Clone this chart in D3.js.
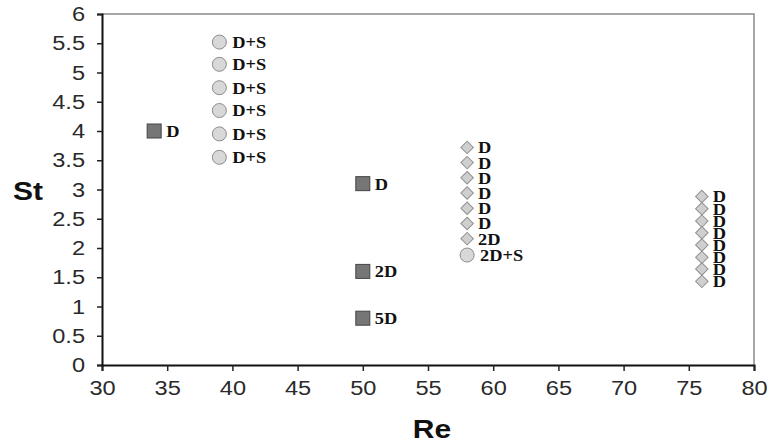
<!DOCTYPE html>
<html>
<head>
<meta charset="utf-8">
<script src="https://cdn.jsdelivr.net/npm/d3@7"></script>
<style>
  html, body { margin: 0; padding: 0; background: #fff; }
  svg { display: block; }
</style>
</head>
<body>
<svg id="chart" width="771" height="442"></svg>
<script>
// Axis ticks
const xTicks = [30, 35, 40, 45, 50, 55, 60, 65, 70, 75, 80];
const yTicks = [0, 0.5, 1, 1.5, 2, 2.5, 3, 3.5, 4, 4.5, 5, 5.5, 6];

// Square markers
const squareRe = [34, 50, 50, 50];
const squareSt = [4.0, 3.1, 1.6, 0.8];
const squareLabel = ["D", "D", "2D", "5D"];

// Circle markers
const circleRe = [39, 39, 39, 39, 39, 39, 58];
const circleSt = [5.52, 5.14, 4.74, 4.35, 3.95, 3.55, 1.88];
const circleLabel = ["D+S", "D+S", "D+S", "D+S", "D+S", "D+S", "2D+S"];

// Diamond markers
const diamondRe = [58, 58, 58, 58, 58, 58, 58, 76, 76, 76, 76, 76, 76, 76, 76];
const diamondSt = [3.72, 3.46, 3.2, 2.94, 2.68, 2.42, 2.16, 2.88, 2.67, 2.46, 2.26, 2.05, 1.84, 1.64, 1.43];
const diamondLabel = ["D", "D", "D", "D", "D", "D", "2D", "D", "D", "D", "D", "D", "D", "D", "D"];

const svg = d3.select("#chart");
const plotLeft = 102, plotRight = 754, plotTop = 14, plotBottom = 365;

const x = d3.scaleLinear().domain([30, 80]).range([plotLeft, plotRight]);
const y = d3.scaleLinear().domain([0, 6]).range([plotBottom, plotTop]);

// widen glyphs slightly to match the chart's text proportions
function stretch(sel, k) {
  sel.each(function () {
    const w = this.getComputedTextLength();
    d3.select(this).attr("textLength", w * k).attr("lengthAdjust", "spacingAndGlyphs");
  });
}

// plot frame (top and right)
svg.append("path")
  .attr("d", `M${plotLeft},${plotTop}H${plotRight}V${plotBottom}`)
  .attr("fill", "none").attr("stroke", "#8a8a8a").attr("stroke-width", 1.5);

// axes
const xAxis = svg.append("g").attr("transform", `translate(0,${plotBottom})`)
  .call(d3.axisBottom(x).tickValues(xTicks).tickSize(6).tickPadding(9).tickFormat(d3.format("d")));
const yAxis = svg.append("g").attr("transform", `translate(${plotLeft},0)`)
  .call(d3.axisLeft(y).tickValues(yTicks).tickSize(5).tickPadding(12).tickFormat(d => String(d)));

[xAxis, yAxis].forEach(g => {
  g.select(".domain").attr("stroke", "#111").attr("stroke-width", 2);
  g.selectAll(".tick line").attr("stroke", "#222").attr("stroke-width", 1.5);
  g.selectAll(".tick text")
    .attr("fill", "#2a2a2a")
    .style("font-family", "'Liberation Sans', Arial, sans-serif")
    .style("font-size", "20.5px");
});
xAxis.selectAll(".tick text").call(stretch, 1.15);
yAxis.selectAll(".tick text").call(stretch, 1.15);

// axis titles
svg.append("text").text("St")
  .attr("x", 13).attr("y", 200)
  .style("font-family", "'Liberation Sans', Arial, sans-serif")
  .style("font-weight", "bold").style("font-size", "25px").attr("fill", "#111")
  .call(stretch, 1.2);
svg.append("text").text("Re")
  .attr("x", 432).attr("y", 438).attr("text-anchor", "middle")
  .style("font-family", "'Liberation Sans', Arial, sans-serif")
  .style("font-weight", "bold").style("font-size", "25px").attr("fill", "#111")
  .call(stretch, 1.2);

const labelFont = "'Liberation Serif', 'Times New Roman', serif";
const marks = svg.append("g");

function addLabels(re, st, labels, dx) {
  marks.selectAll(null).data(labels).enter().append("text")
    .attr("x", (d, i) => x(re[i]) + dx)
    .attr("y", (d, i) => y(st[i]))
    .attr("dy", "0.35em")
    .text(d => d)
    .style("font-family", labelFont)
    .style("font-weight", "bold").style("font-size", "17px")
    .attr("fill", "#111")
    .call(stretch, 1.08);
}

// squares
marks.selectAll(null).data(squareSt).enter().append("rect")
  .attr("x", (d, i) => x(squareRe[i]) - 7)
  .attr("y", d => y(d) - 7)
  .attr("width", 14).attr("height", 14)
  .attr("fill", "#767676").attr("stroke", "#444").attr("stroke-width", 1);
addLabels(squareRe, squareSt, squareLabel, 12);

// circles
marks.selectAll(null).data(circleSt).enter().append("circle")
  .attr("cx", (d, i) => x(circleRe[i]))
  .attr("cy", d => y(d))
  .attr("r", 7)
  .attr("fill", "#d8d8d8").attr("stroke", "#8c8c8c").attr("stroke-width", 1);
addLabels(circleRe, circleSt, circleLabel, 13);

// diamonds
const diamond = d3.symbol().type(d3.symbolSquare).size(78);
marks.selectAll(null).data(diamondSt).enter().append("path")
  .attr("d", diamond)
  .attr("transform", (d, i) => `translate(${x(diamondRe[i])},${y(d)}) rotate(45)`)
  .attr("fill", "#cfcfcf").attr("stroke", "#909090").attr("stroke-width", 1);
addLabels(diamondRe, diamondSt, diamondLabel, 11);
</script>
</body>
</html>
